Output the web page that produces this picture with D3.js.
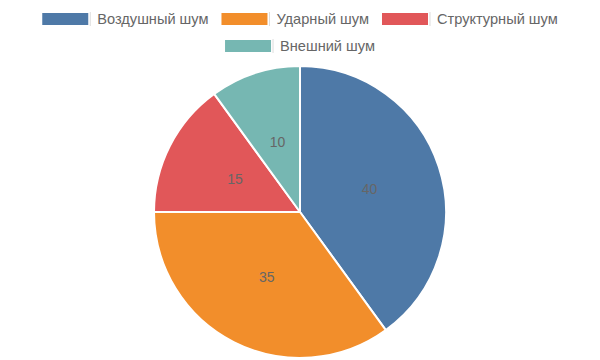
<!DOCTYPE html>
<html><head><meta charset="utf-8">
<script src="https://cdn.jsdelivr.net/npm/d3@7"></script>
<style>html,body{margin:0;padding:0;background:#fff;}svg{display:block;}</style>
</head><body>
<svg id="chart" width="600" height="360"></svg>
<script>
const categories = ["Воздушный шум", "Ударный шум", "Структурный шум", "Внешний шум"];
const values = [40, 35, 15, 10];
const colors = ["#4e79a7", "#f28e2b", "#e15759", "#76b7b2"];

const svg = d3.select("#chart");
const W = 600, H = 360;
const font = "'Liberation Sans', Arial, sans-serif";
const fontSize = 14.6;
const boxW = 46, boxH = 12, boxGap = 9, itemGap = 13;

// Legend layout
const legend = svg.append("g");
const items = categories.map((c, i) => {
  const t = legend.append("text").attr("font-family", font).attr("font-size", fontSize).text(c);
  const w = t.node().getComputedTextLength();
  t.remove();
  return {c, i, w: boxW + boxGap + w};
});
const maxW = W - 20;
const rows = [[]];
let cur = 0;
items.forEach(it => {
  const add = (rows[rows.length-1].length ? itemGap : 0) + it.w;
  if (cur + add > maxW && rows[rows.length-1].length) { rows.push([it]); cur = it.w; }
  else { rows[rows.length-1].push(it); cur += add; }
});
const rowY = [19, 46];
rows.forEach((row, r) => {
  const total = d3.sum(row, d => d.w) + itemGap * (row.length - 1);
  let x = (W - total) / 2;
  row.forEach(it => {
    const g = legend.append("g").attr("transform", `translate(${x},${rowY[r]})`);
    g.append("rect").attr("x", 0).attr("y", -boxH/2).attr("width", boxW).attr("height", boxH)
      .attr("fill", colors[it.i]);
    g.append("line").attr("x1", boxW + 2).attr("x2", boxW + 2).attr("y1", -boxH/2 - 1).attr("y2", boxH/2 + 1)
      .attr("stroke", "#ddd").attr("stroke-width", 1);
    g.append("text").attr("x", boxW + boxGap).attr("y", 0).attr("dy", "0.35em")
      .attr("font-family", font).attr("font-size", fontSize).attr("fill", "#666").text(it.c);
    x += it.w + itemGap;
  });
});

// Pie
const cx = 300, cy = 212, R = 146;
const pie = d3.pie().sort(null).value(d => d)(values);
const arc = d3.arc().innerRadius(0).outerRadius(R);
const labelArc = d3.arc().innerRadius(R/2).outerRadius(R/2);
const pg = svg.append("g").attr("transform", `translate(${cx},${cy})`);
pg.selectAll("path").data(pie).join("path")
  .attr("d", arc).attr("fill", (d, i) => colors[i])
  .attr("stroke", "#fff").attr("stroke-width", 2).attr("stroke-linejoin", "round");
pg.selectAll("text").data(pie).join("text")
  .attr("transform", d => `translate(${labelArc.centroid(d)})`)
  .attr("text-anchor", "middle").attr("dy", "0.35em")
  .attr("font-family", font).attr("font-size", 14).attr("fill", "#666")
  .text(d => d.data);
</script>
</body></html>
